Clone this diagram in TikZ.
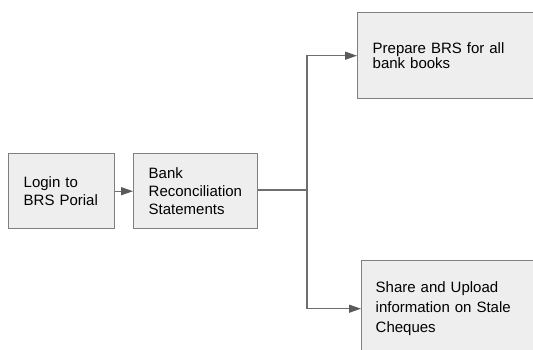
\documentclass[tikz,border=0pt]{standalone}
\usepackage{fontspec}
\setmainfont{Liberation Sans}
\usetikzlibrary{arrows.meta}
\definecolor{boxfill}{HTML}{EEEEEE}
\definecolor{boxline}{HTML}{7F7F7F}
\definecolor{flowline}{HTML}{6E6E6E}
\definecolor{tipfill}{HTML}{5A5A5A}
\begin{document}
\begin{tikzpicture}[x=1pt,y=-1pt,
  stepbox/.style={draw=boxline,fill=boxfill,line width=1.4pt,rectangle,
    inner xsep=15pt,inner ysep=0pt,align=left,anchor=north west,
    font=\fontsize{15}{18}\selectfont},
  flow/.style={draw=flowline,line width=1.2pt,
    -{Triangle[length=12pt,width=8pt,fill=tipfill,color=tipfill]}}]
  \useasboundingbox (0,0) rectangle (533,349);
  \clip (0,0) rectangle (533,349);
  \fill[white] (0,0) rectangle (533,349);
  % process boxes
  \node[stepbox,text width=76pt,minimum height=75pt] (login) at (8,153) {Login to\\BRS Porial};
  \node[stepbox,text width=94pt,minimum height=75pt] (brs) at (133,153) {Bank\\Reconciliation\\Statements};
  \node[stepbox,text width=190pt,minimum height=86pt,
        font=\fontsize{15}{14.5}\selectfont] (prep) at (357,12) {Prepare BRS for all\\bank books};
  \node[stepbox,text width=190pt,minimum height=96pt,inner xsep=14pt,
        font=\fontsize{15}{20}\selectfont] (share) at (361,260) {Share and Upload\\information on Stale\\Cheques};
  % connectors
  \coordinate (split) at (307,190);
  \draw[flow] (login.east) -- (brs.west);
  \draw[draw=flowline,line width=1.2pt] (brs.east |- split) -- (split);
  \draw[flow] (split) |- (prep.west);
  \draw[flow] (split) |- (share.west);
\end{tikzpicture}
\end{document}
